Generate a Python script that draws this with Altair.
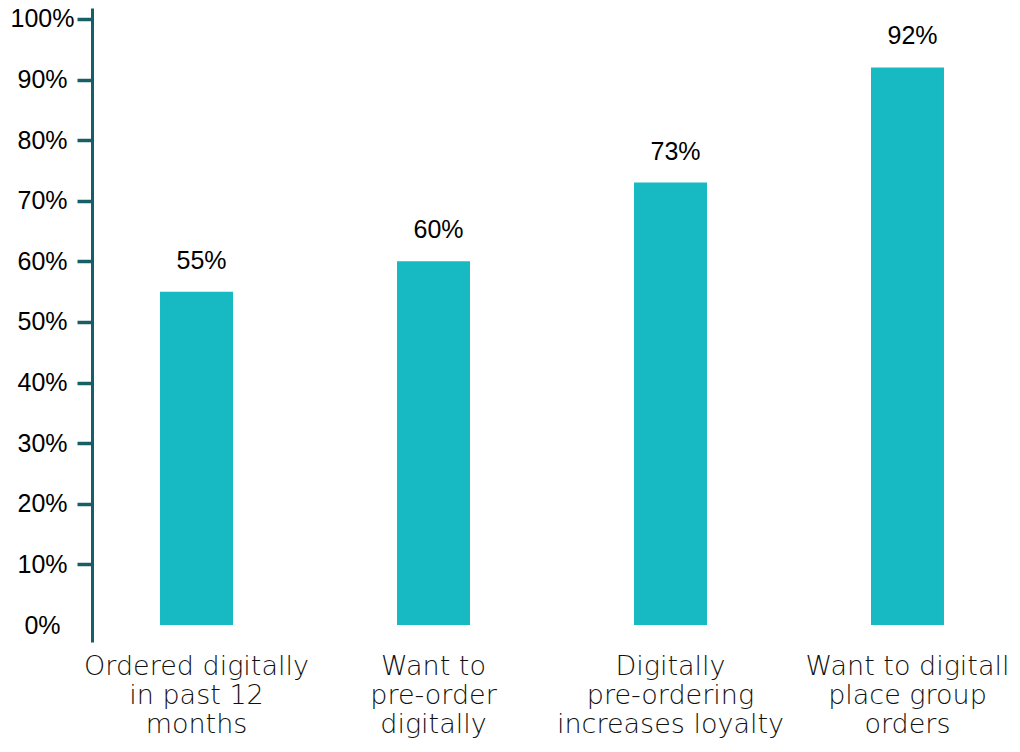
import json

import altair as alt
import pandas as pd

# chart values
label_lines = [
    ["Ordered digitally", "in past 12", "months"],
    ["Want to", "pre-order", "digitally"],
    ["Digitally", "pre-ordering", "increases loyalty"],
    ["Want to digitall", "place group", "orders"],
]
categories = [" ".join(lines) for lines in label_lines]
values = [55, 60, 73, 92]
value_labels = ["55%", "60%", "73%", "92%"]
y_ticks = [0, 10, 20, 30, 40, 50, 60, 70, 80, 90, 100]

df = pd.DataFrame({"category": categories, "value": values, "text": value_labels})

# map each category to its lines for the axis labels
line_map = json.dumps(dict(zip(categories, label_lines)))

teal = "#17b9c2"
dark = "#175f66"

x = alt.X(
    "category:N",
    sort=categories,
    title=None,
    scale=alt.Scale(paddingInner=0.692, paddingOuter=0.287),
    axis=alt.Axis(
        labelAngle=0,
        domain=False,
        ticks=False,
        labelExpr=f"{line_map}[datum.label]",
        labelFont="DejaVu Sans",
        labelFontWeight=200,
        labelFontSize=27,
        labelLineHeight=29,
        labelColor="#111111",
        labelPadding=11,
        labelLimit=400,
    ),
)

y_scale = alt.Scale(domain=[-2.8, 101.8], nice=False, zero=False)

bars = (
    alt.Chart(df)
    .mark_bar(color=teal)
    .encode(
        x=x,
        y=alt.Y(
            "value:Q",
            scale=y_scale,
            title=None,
            axis=alt.Axis(
                values=y_ticks,
                grid=False,
                labelExpr="datum.value + '%'",
                labelFont="Liberation Sans",
                labelFontSize=25,
                labelColor="#000000",
                labelAlign="center",
                labelBaseline="middle",
                labelPadding=35,
                tickSize=15,
                tickWidth=3.5,
                tickColor=dark,
                tickOpacity=alt.condition("datum.value == 0", alt.value(0), alt.value(1)),
                domainColor=dark,
                domainWidth=3,
            ),
        ),
        y2=alt.datum(0),
    )
)

texts = (
    alt.Chart(df)
    .mark_text(
        font="Liberation Sans",
        fontSize=25,
        color="#000000",
        baseline="alphabetic",
        dy=-23,
        dx=5,
    )
    .encode(x=x, y=alt.Y("value:Q", scale=y_scale), text="text:N")
)

chart = (
    alt.layer(bars, texts)
    .properties(
        width=920,
        height=634,
        autosize=alt.AutoSizeParams(type="none"),
        padding={"left": 84, "top": 0, "right": 0, "bottom": 96},
    )
    .configure_view(stroke=None)
)

chart.save("out.html", embed_options={"renderer": "svg", "actions": False})
